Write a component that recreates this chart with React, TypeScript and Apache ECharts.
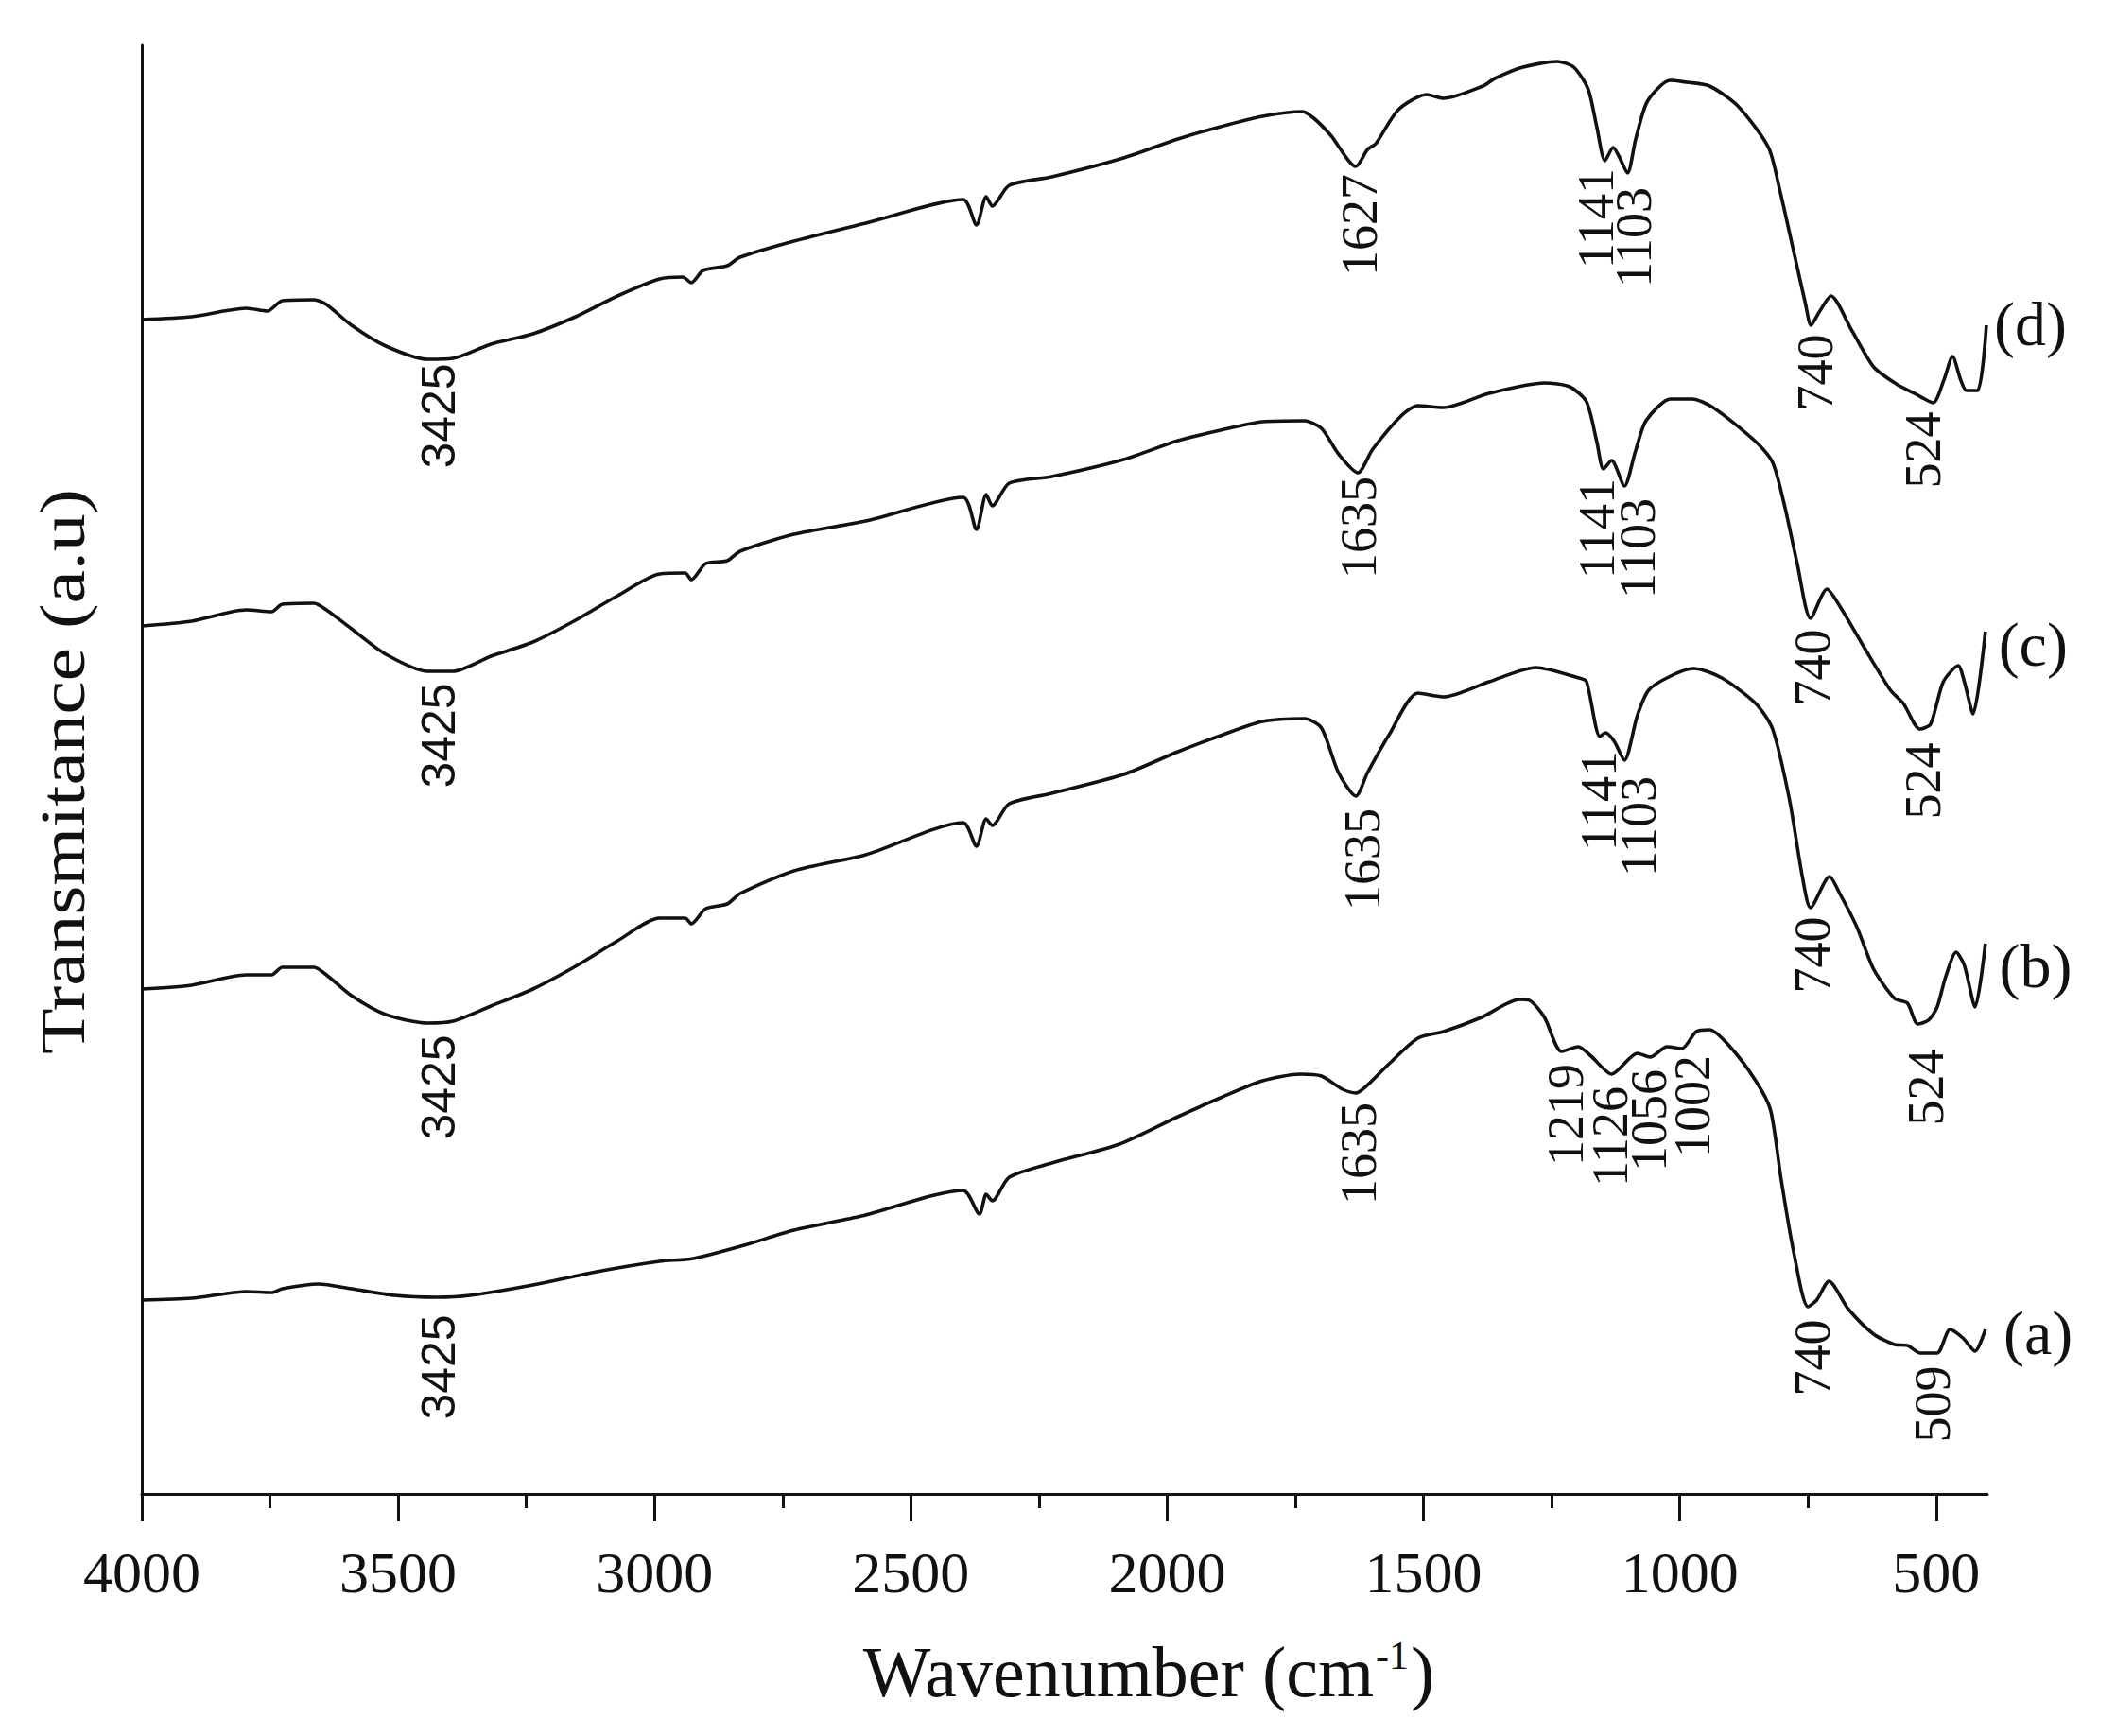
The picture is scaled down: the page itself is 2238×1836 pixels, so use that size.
import React, { useEffect, useRef } from "react";
import * as echarts from "echarts";

// spectrum (d), top
const waveD = [4000, 3903, 3796, 3755, 3726, 3664, 3640, 3591, 3524, 3442, 3393, 3319, 3237, 3154, 3072, 2990, 2945, 2928, 2905, 2858, 2833, 2728, 2588, 2398, 2372, 2353, 2341, 2308, 2225, 2085, 1979, 1896, 1814, 1736, 1714, 1681, 1632, 1609, 1593, 1549, 1494, 1461, 1384, 1361, 1306, 1240, 1207, 1179, 1162, 1146, 1130, 1119, 1102, 1086, 1063, 1019, 986, 942, 887, 827, 805, 777, 755, 744, 728, 705, 666, 622, 578, 539, 506, 485, 468, 452, 441, 419, 402];
const transD = [1247, 1250, 1259, 1256, 1267, 1268, 1263, 1241, 1219, 1205, 1206, 1221, 1232, 1250, 1272, 1290, 1292, 1286, 1299, 1304, 1313, 1330, 1349, 1374, 1347, 1377, 1367, 1389, 1398, 1418, 1438, 1451, 1462, 1467, 1460, 1442, 1409, 1427, 1433, 1469, 1485, 1481, 1494, 1502, 1514, 1520, 1514, 1491, 1451, 1415, 1429, 1420, 1402, 1438, 1478, 1500, 1498, 1494, 1473, 1429, 1384, 1317, 1264, 1241, 1255, 1272, 1237, 1197, 1179, 1168, 1159, 1183, 1208, 1183, 1172, 1172, 1241];

// spectrum (c)
const waveC = [4000, 3903, 3796, 3747, 3726, 3664, 3640, 3591, 3524, 3442, 3393, 3319, 3237, 3154, 3072, 2990, 2940, 2928, 2900, 2858, 2833, 2728, 2588, 2398, 2372, 2353, 2341, 2308, 2225, 2085, 1979, 1896, 1814, 1732, 1699, 1666, 1628, 1599, 1542, 1511, 1461, 1372, 1264, 1215, 1182, 1162, 1149, 1133, 1108, 1087, 1066, 1018, 976, 935, 852, 819, 796, 771, 745, 713, 688, 639, 589, 564, 532, 511, 486, 457, 445, 428, 404];
const transC = [923, 928, 940, 938, 946, 947, 940, 920, 893, 875, 875, 891, 906, 929, 955, 978, 979, 972, 989, 992, 1002, 1020, 1034, 1059, 1025, 1062, 1050, 1074, 1081, 1099, 1119, 1130, 1139, 1140, 1132, 1105, 1085, 1110, 1146, 1156, 1154, 1169, 1180, 1176, 1160, 1118, 1089, 1098, 1071, 1107, 1140, 1163, 1163, 1154, 1118, 1096, 1051, 989, 931, 962, 944, 899, 855, 841, 814, 819, 864, 881, 864, 830, 917];

// spectrum (b)
const waveB = [4000, 3903, 3796, 3747, 3726, 3664, 3640, 3591, 3524, 3442, 3393, 3319, 3237, 3154, 3072, 2990, 2940, 2928, 2900, 2858, 2833, 2728, 2588, 2398, 2372, 2353, 2341, 2308, 2225, 2085, 1979, 1896, 1814, 1732, 1699, 1666, 1632, 1609, 1567, 1511, 1461, 1372, 1281, 1197, 1182, 1156, 1145, 1128, 1108, 1083, 1061, 1018, 973, 918, 852, 819, 786, 761, 745, 708, 688, 655, 622, 581, 556, 536, 515, 498, 482, 461, 445, 424, 404];
const transB = [539, 543, 554, 554, 562, 562, 554, 532, 512, 503, 505, 521, 539, 563, 590, 614, 614, 608, 624, 629, 640, 664, 681, 715, 690, 719, 712, 735, 746, 766, 790, 807, 822, 825, 815, 768, 743, 768, 808, 852, 848, 864, 879, 868, 864, 806, 810, 801, 781, 828, 855, 870, 878, 868, 841, 814, 739, 658, 625, 658, 640, 605, 560, 529, 524, 502, 506, 520, 551, 578, 564, 520, 587];

// spectrum (a), bottom
const waveA = [4000, 3903, 3796, 3747, 3726, 3656, 3591, 3507, 3425, 3360, 3237, 3113, 2990, 2924, 2825, 2728, 2596, 2398, 2366, 2353, 2341, 2308, 2225, 2093, 1979, 1896, 1814, 1740, 1699, 1658, 1632, 1612, 1567, 1511, 1461, 1387, 1313, 1293, 1264, 1231, 1198, 1173, 1133, 1083, 1058, 1025, 996, 968, 942, 902, 852, 823, 803, 779, 750, 733, 709, 672, 622, 581, 556, 531, 498, 473, 448, 424, 404];
const transA = [210, 212, 219, 218, 222, 227, 222, 215, 213, 215, 226, 240, 251, 254, 268, 284, 299, 326, 301, 322, 315, 340, 355, 375, 404, 424, 442, 449, 447, 433, 429, 436, 460, 487, 494, 509, 528, 527, 509, 473, 478, 468, 449, 471, 467, 478, 476, 494, 496, 478, 442, 411, 340, 264, 203, 210, 230, 201, 174, 163, 162, 154, 154, 179, 170, 156, 179];

const majorTicks = [4000, 3500, 3000, 2500, 2000, 1500, 1000, 500];
const minorTicks = [3750, 3250, 2750, 2250, 1750, 1250, 750];

// peak annotations: text, wavenumber, level of the text centre
const peakMarks: [string, number, number][] = [
    ["3425", 3420, 1145], ["1627", 1624, 1347], ["1141", 1163, 1354], ["1103", 1089, 1334], ["740", 736, 1191], ["524", 526, 1109],
    ["3425", 3420, 807], ["1635", 1627, 1027], ["1141", 1162, 1026], ["1103", 1083, 1005], ["740", 742, 879], ["524", 525, 759],
    ["3425", 3420, 435], ["1635", 1619, 676], ["1141", 1158, 738], ["1103", 1080, 711], ["740", 742, 575], ["524", 519, 435],
    ["3425", 3420, 139], ["1635", 1627, 365], ["1219", 1223, 406], ["1126", 1135, 383], ["1056", 1060, 400], ["1002", 976, 415], ["740", 742, 149], ["509", 507, 100],
];

const sampleNames = ["(a)", "(b)", "(c)", "(d)"];
const sampleWave = [301, 306, 311, 316];
const sampleLevel = [176, 564, 904, 1243];

const pair = (w: number[], t: number[]) => w.map((x, i) => [x, t[i]]);

const App = () => {
    const chartRef = useRef<HTMLDivElement>(null);

    useEffect(() => {
        const chart = echarts.init(chartRef.current, null, { renderer: "svg" });

        const lineSeries = [
            pair(waveD, transD),
            pair(waveC, transC),
            pair(waveB, transB),
            pair(waveA, transA),
        ].map((data) => ({
            type: "line",
            data,
            xAxisIndex: 0,
            yAxisIndex: 0,
            showSymbol: false,
            smooth: 0.25,
            lineStyle: { color: "#111", width: 3.6 },
        }));

        chart.setOption({
            animation: false,
            backgroundColor: "#fff",
            grid: { left: 150, right: 136, top: 48, bottom: 256 },
            xAxis: [
                {
                    type: "value",
                    inverse: true,
                    min: 400,
                    max: 4000,
                    axisLine: { onZero: false, lineStyle: { color: "#111", width: 3 } },
                    axisTick: { customValues: majorTicks, length: 29, lineStyle: { color: "#111", width: 3 } },
                    axisLabel: {
                        customValues: majorTicks,
                        formatter: (v: number) => String(v),
                        fontFamily: "Liberation Serif",
                        fontSize: 62,
                        color: "#111",
                        margin: 52,
                    },
                    splitLine: { show: false },
                },
                {
                    type: "value",
                    inverse: true,
                    position: "bottom",
                    min: 400,
                    max: 4000,
                    axisLine: { show: false },
                    axisTick: { customValues: minorTicks, length: 15, lineStyle: { color: "#111", width: 3 } },
                    axisLabel: { show: false },
                    splitLine: { show: false },
                },
            ],
            yAxis: {
                type: "value",
                min: 5,
                max: 1537,
                axisLine: { show: true, onZero: false, lineStyle: { color: "#111", width: 3 } },
                axisTick: { show: false },
                axisLabel: { show: false },
                splitLine: { show: false },
            },
            series: lineSeries,
        });

        // texts are placed through the axes' own scales
        const toPx = (w: number, v: number) => chart.convertToPixel({ xAxisIndex: 0, yAxisIndex: 0 }, [w, v]);

        const peakTexts = peakMarks.map(([text, w, v]) => {
            const [x, y] = toPx(w, v);
            const sans = text === "3425";
            return {
                type: "text",
                x,
                y,
                rotation: Math.PI / 2,
                style: {
                    text,
                    fontFamily: sans ? "Liberation Sans" : "Liberation Serif",
                    fontSize: sans ? 50 : 54,
                    fill: "#111",
                    align: "center",
                    verticalAlign: "middle",
                },
            };
        });

        const sampleTexts = sampleNames.map((name, i) => {
            const [x, y] = toPx(sampleWave[i], sampleLevel[i]);
            return {
                type: "text",
                x,
                y,
                style: {
                    text: name,
                    fontFamily: "Liberation Serif",
                    fontSize: 66,
                    fill: "#111",
                    align: "center",
                    verticalAlign: "middle",
                },
            };
        });

        chart.setOption({
            graphic: [
                ...peakTexts,
                ...sampleTexts,
                {
                    type: "text",
                    x: 1215,
                    y: 1768,
                    style: {
                        text: "Wavenumber (cm{sup|-1})",
                        fontFamily: "Liberation Serif",
                        fontSize: 76,
                        fill: "#111",
                        align: "center",
                        verticalAlign: "middle",
                        rich: {
                            sup: { fontFamily: "Liberation Serif", fontSize: 42, fill: "#111", verticalAlign: "top", padding: [0, 2, 0, 2] },
                        },
                    },
                },
                {
                    type: "text",
                    x: 66,
                    y: 816,
                    rotation: Math.PI / 2,
                    scaleX: 1.17,
                    style: {
                        text: "Transmitance (a.u)",
                        fontFamily: "Liberation Serif",
                        fontSize: 68,
                        fill: "#111",
                        align: "center",
                        verticalAlign: "middle",
                    },
                },
            ],
        });

        return () => {
            chart.dispose();
        };
    }, []);

    return (
        <div
            ref={chartRef}
            style={{ position: "fixed", left: 0, top: 0, width: 2238, height: 1836, background: "#fff" }}
        />
    );
};

export default App;
